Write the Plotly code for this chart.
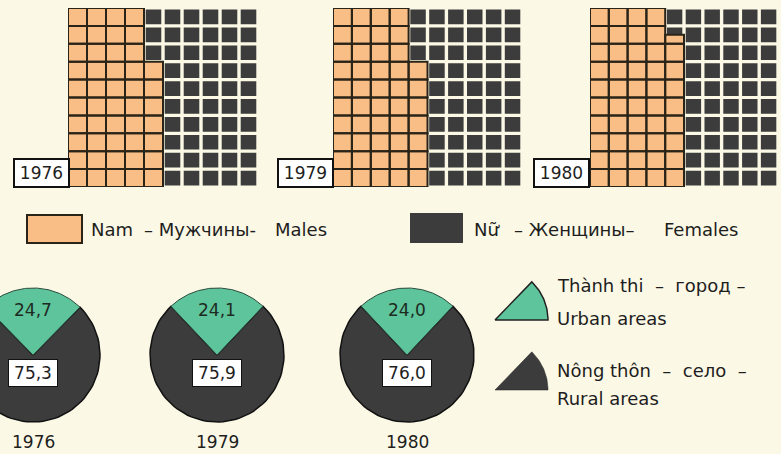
import numpy as np
import plotly.graph_objects as go

# ---------------- data ----------------
years = ["1976", "1979", "1980"]
male_pct = [47.0, 47.0, 48.5]          # share of males (cells out of 100)
urban_pct = [24.7, 24.1, 24.0]         # urban share
rural_pct = [75.3, 75.9, 76.0]         # rural share
legend_male = ["Nam", "– Мужчины-", "Males"]
legend_female = ["Nữ", "– Женщины–", "Females"]
legend_area = [("Thành thi  –  город –", "Urban areas"),
               ("Nông thôn  –  село  –", "Rural areas")]

# ---------------- style / layout ----------------
W, H = 781, 454
BG = "#fbf8e5"
ORANGE = "#f9be86"
DARK = "#3c3c3c"
GREEN = "#5ec49b"
INK = "#1e1e1e"
FONT = "DejaVu Sans, Liberation Sans, Arial, sans-serif"

waffle_x = [(68, 258), (333, 522), (590, 778)]
waffle_y = (8, 187)
year_box_x = [41, 305, 561]
pie_cx = [33, 217, 407]
pie_cy = 355
pie_r = 67
PAD = 96


def px(x):
    return x / W


def py(y):
    return 1 - y / H


def fmt(v):
    return f"{v:.1f}".replace(".", ",")


fig = go.Figure()
layout = dict(
    width=W, height=H, margin=dict(l=0, r=0, t=0, b=0),
    paper_bgcolor=BG, plot_bgcolor="rgba(0,0,0,0)",
    showlegend=False, font=dict(family=FONT, color=INK),
)
annotations = []
shapes = []


def label(x, y, text, size=17, anchor="center", **kw):
    d = dict(xref="paper", yref="paper", x=px(x), y=py(y), xanchor=anchor, yanchor="middle",
             text=text, showarrow=False, font=dict(size=size, color=INK, family=FONT))
    d.update(kw)
    annotations.append(d)


# ---------------- waffles ----------------
g = 0.09
for k, m in enumerate(male_pct):
    ax = k + 1
    xa, ya = f"x{ax}", f"y{ax}"
    layout[f"xaxis{ax}"] = dict(domain=[px(waffle_x[k][0]), px(waffle_x[k][1])], range=[0, 10],
                                visible=False, fixedrange=True, anchor=ya)
    layout[f"yaxis{ax}"] = dict(domain=[py(waffle_y[1]), py(waffle_y[0])], range=[0, 10],
                                visible=False, fixedrange=True, anchor=xa)
    dx, dy, ox, oy = [], [], [], []
    for i in range(100):
        c, r = i // 10, i % 10
        f = min(max(m - i, 0.0), 1.0)
        if f < 1:
            dx += [c + g, c + 1 - g, c + 1 - g, c + g, c + g, None]
            dy += [r + g, r + g, r + 1 - g, r + 1 - g, r + g, None]
        if f > 0:
            ox += [c, c + 1, c + 1, c, c, None]
            oy += [r, r, r + f, r + f, r, None]
    fig.add_trace(go.Scatter(x=dx, y=dy, xaxis=xa, yaxis=ya, mode="lines", fill="toself",
                             fillcolor=DARK, line=dict(width=0), hoverinfo="skip"))
    fig.add_trace(go.Scatter(x=ox, y=oy, xaxis=xa, yaxis=ya, mode="lines", fill="toself",
                             fillcolor=ORANGE, line=dict(width=2, color="#2a2418"), hoverinfo="skip"))
    label(year_box_x[k], 172.5, years[k], size=17, bgcolor="white", bordercolor="#111",
          borderwidth=2, width=51, height=24, borderpad=1)

# ---------------- sex legend ----------------
shapes.append(dict(type="rect", xref="paper", yref="paper", x0=px(27), x1=px(82), y0=py(243), y1=py(215),
                   fillcolor=ORANGE, line=dict(color="#2a2418", width=2)))
shapes.append(dict(type="rect", xref="paper", yref="paper", x0=px(410), x1=px(463), y0=py(243), y1=py(213),
                   fillcolor=DARK, line=dict(width=0)))
for txt, x0 in zip(legend_male, [89, 142, 273]):
    label(x0, 229, txt, size=18, anchor="left")
for txt, x0 in zip(legend_female, [472, 512, 662]):
    label(x0, 229, txt, size=18, anchor="left")


# ---------------- pies ----------------
def arc(a0, a1, n=80):
    t = np.radians(np.linspace(a0, a1, n))
    return list(np.cos(t)), list(np.sin(t))


for k in range(3):
    ax = k + 4
    xa, ya = f"x{ax}", f"y{ax}"
    d0 = max(0, pie_cx[k] - PAD)
    d1 = pie_cx[k] + PAD
    layout[f"xaxis{ax}"] = dict(domain=[px(d0), px(d1)],
                                range=[(d0 - pie_cx[k]) / pie_r, (d1 - pie_cx[k]) / pie_r],
                                visible=False, fixedrange=True, anchor=ya)
    layout[f"yaxis{ax}"] = dict(domain=[py(pie_cy + PAD), py(pie_cy - PAD)],
                                range=[-PAD / pie_r, PAD / pie_r],
                                visible=False, fixedrange=True, anchor=xa)
    h = urban_pct[k] / 100 * 180
    rx, ry = arc(90 + h, 90 - h + 360)
    fig.add_trace(go.Scatter(x=[0] + rx + [0], y=[0] + ry + [0], xaxis=xa, yaxis=ya, mode="lines",
                             fill="toself", fillcolor=DARK, line=dict(color="#111", width=1.5),
                             hoverinfo="skip"))
    ux, uy = arc(90 - h, 90 + h)
    fig.add_trace(go.Scatter(x=[0] + ux + [0], y=[0] + uy + [0], xaxis=xa, yaxis=ya, mode="lines",
                             fill="toself", fillcolor=GREEN, line=dict(color="#2b4a3d", width=1),
                             hoverinfo="skip"))
    annotations.append(dict(xref=xa, yref=ya, x=0, y=0.67, text=fmt(urban_pct[k]), showarrow=False,
                            xanchor="center", yanchor="middle",
                            font=dict(size=17, color="#1d2b22", family=FONT)))
    annotations.append(dict(xref=xa, yref=ya, x=0, y=-0.27, text=fmt(rural_pct[k]), showarrow=False,
                            xanchor="center", yanchor="middle",
                            font=dict(size=17, color=INK, family=FONT), bgcolor="white",
                            bordercolor="#111", borderwidth=1, width=46, height=24, borderpad=1))
    annotations.append(dict(xref=xa, yref=ya, x=0, y=-1.3, text=years[k], showarrow=False,
                            xanchor="center", yanchor="middle",
                            font=dict(size=17, color=INK, family=FONT)))

# ---------------- area legend (overlay pixel axis) ----------------
layout["xaxis7"] = dict(domain=[0, 1], range=[0, W], visible=False, fixedrange=True, anchor="y7")
layout["yaxis7"] = dict(domain=[0, 1], range=[H, 0], visible=False, fixedrange=True, anchor="x7")
for j, (col, y0, t1, t2) in enumerate([(GREEN, 320, 285, 318), (DARK, 390, 370, 398)]):
    t = np.radians(np.linspace(0, 46, 30))
    lx = [495] + list(495 + 53 * np.cos(t)) + [495]
    ly = [y0] + list(y0 - 53 * np.sin(t)) + [y0]
    fig.add_trace(go.Scatter(x=lx, y=ly, xaxis="x7", yaxis="y7", mode="lines", fill="toself",
                             fillcolor=col, line=dict(color="#222", width=1.5 if j == 0 else 0.5),
                             hoverinfo="skip"))
    label(555, t1, legend_area[j][0], size=18, anchor="left")
    label(555, t2, legend_area[j][1], size=18, anchor="left")

layout["annotations"] = annotations
layout["shapes"] = shapes
fig.update_layout(**layout)
fig.write_html("out.html", config={"displayModeBar": False},
               post_script="document.body.style.margin='0';document.body.style.overflow='hidden';")
